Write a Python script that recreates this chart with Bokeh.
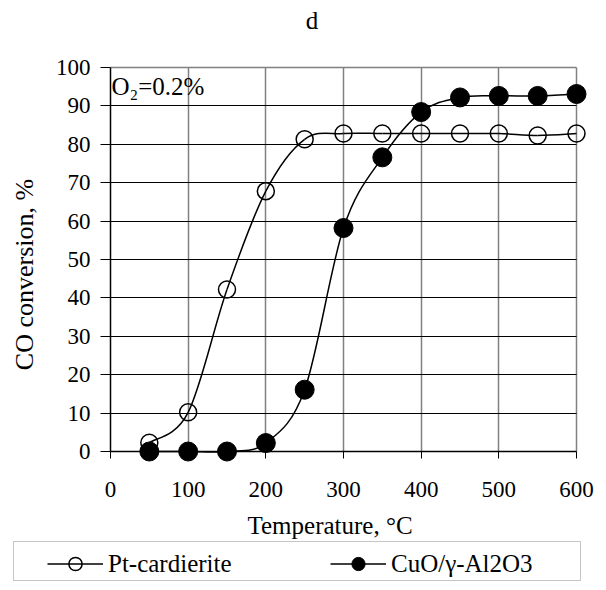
import math
from bokeh.plotting import figure
from bokeh.models import Range1d, FixedTicker, Legend, LegendItem, Label, Grid, BoxAnnotation
from bokeh.embed import file_html
from bokeh.resources import INLINE

# ---- data ----
temperature = [50, 100, 150, 200, 250, 300, 350, 400, 450, 500, 550, 600]
pt_cardierite = [2.3, 10.2, 42.2, 67.8, 81.3, 82.8, 82.8, 82.8, 82.8, 82.8, 82.3, 82.8]
cuo_al2o3 = [0.0, 0.0, 0.0, 2.2, 16.1, 58.2, 76.6, 88.4, 92.2, 92.6, 92.6, 93.1]
x_ticks = [0, 100, 200, 300, 400, 500, 600]
y_ticks = [0, 10, 20, 30, 40, 50, 60, 70, 80, 90, 100]

FONT = "Liberation Serif"
TICK_FS = "23px"
FS = "25px"

# ---- layout (pixels) ----
W, H = 606, 590
X0, X600 = 110, 576       # pixel columns of x = 0 and x = max
Y0, Y100 = 451, 67        # pixel rows of y = 0 and y = max
x_max, y_max = x_ticks[-1], y_ticks[-1]
sx = (X600 - X0) / x_max
sy = (Y0 - Y100) / y_max


def dx(px):
    return (px - X0) / sx


def dy(py):
    return (Y0 - py) / sy


p = figure(width=W, height=H, x_range=Range1d(dx(0), dx(W)), y_range=Range1d(dy(H), dy(0)),
           output_backend="svg", toolbar_location=None, title_location=None, min_border=0)
p.min_border_left = p.min_border_right = p.min_border_top = p.min_border_bottom = 0
p.outline_line_color = None
p.background_fill_color = "white"
p.border_fill_color = "white"
# a range far away from the view, used only by the legend's line keys
p.extra_y_ranges = {"key": Range1d(10 * y_max, 20 * y_max)}

# axes drawn at the zero lines
p.xaxis.fixed_location = 0
p.yaxis.fixed_location = 0
p.xaxis.bounds = (0, x_max)
p.yaxis.bounds = (0, y_max)
p.xaxis.ticker = FixedTicker(ticks=x_ticks)
p.yaxis.ticker = FixedTicker(ticks=y_ticks)
for ax in (p.xaxis, p.yaxis):
    ax.axis_line_color = "black"
    ax.axis_line_width = 1.5
    ax.major_tick_line_color = "black"
    ax.major_tick_line_width = 1
    ax.major_tick_in = 0
    ax.minor_tick_line_color = None
    ax.major_label_text_font = FONT
    ax.major_label_text_font_size = TICK_FS
    ax.major_label_text_color = "black"
p.yaxis.major_tick_out = 10
p.yaxis.major_label_standoff = 10
p.xaxis.major_tick_out = 7
p.xaxis.major_label_standoff = 23

# grids limited to the plot area
p.grid.visible = False
grid_specs = [
    (0, x_ticks[1:], "#808080", 1.5, (0, y_max)),      # vertical lines (gray)
    (1, y_ticks[1:-1], "black", 1, (0, x_max)),        # horizontal lines (black)
    (1, y_ticks[-1:], "#808080", 1.5, (0, x_max)),     # top edge (gray)
]
has_cross = "cross_bounds" in Grid.properties()
for dim, ticks, color, width, cross in grid_specs:
    if has_cross:
        p.add_layout(Grid(dimension=dim, ticker=FixedTicker(ticks=ticks), grid_line_color=color,
                          grid_line_width=width, cross_bounds=cross))
    else:
        n = len(ticks)
        if dim == 0:
            p.segment(x0=ticks, x1=ticks, y0=[cross[0]] * n, y1=[cross[1]] * n,
                      line_color=color, line_width=width, level="underlay")
        else:
            p.segment(x0=[cross[0]] * n, x1=[cross[1]] * n, y0=ticks, y1=ticks,
                      line_color=color, line_width=width, level="underlay")


def smooth(xs, ys):
    """Bezier control points (Excel-style smoothing) from the data points."""
    n = len(xs)
    seg = dict(x0=[], y0=[], x1=[], y1=[], cx0=[], cy0=[], cx1=[], cy1=[])
    for i in range(n - 1):
        a = max(i - 1, 0)
        d = min(i + 2, n - 1)
        seg["x0"].append(xs[i]); seg["y0"].append(ys[i])
        seg["x1"].append(xs[i + 1]); seg["y1"].append(ys[i + 1])
        seg["cx0"].append(xs[i] + (xs[i + 1] - xs[a]) / 6)
        seg["cy0"].append(ys[i] + (ys[i + 1] - ys[a]) / 6)
        seg["cx1"].append(xs[i + 1] - (xs[d] - xs[i]) / 6)
        seg["cy1"].append(ys[i + 1] - (ys[d] - ys[i]) / 6)
    return seg


p.bezier(source=smooth(temperature, pt_cardierite), x0="x0", y0="y0", x1="x1", y1="y1",
         cx0="cx0", cy0="cy0", cx1="cx1", cy1="cy1", line_color="black", line_width=1.5)
pt_pts = p.scatter(temperature, pt_cardierite, marker="circle", size=17, fill_color=None,
                   line_color="black", line_width=1.5)
p.bezier(source=smooth(temperature, cuo_al2o3), x0="x0", y0="y0", x1="x1", y1="y1",
         cx0="cx0", cy0="cy0", cx1="cx1", cy1="cy1", line_color="black", line_width=1.5)
cu_pts = p.scatter(temperature, cuo_al2o3, marker="circle", size=19, fill_color="black",
                   line_color="black", line_width=1)
# line keys for the legend (mapped onto the far-away range, so nothing shows in the plot)
pt_key = p.line(temperature, pt_cardierite, line_color="black", line_width=1.5, y_range_name="key")
cu_key = p.line(temperature, cuo_al2o3, line_color="black", line_width=1.5, y_range_name="key")

# texts
common = dict(text_font=FONT, text_font_size=FS, text_color="black", text_baseline="middle")
p.add_layout(Label(x=dx(311.5), y=dy(20), text="d", text_align="center", **common))
p.add_layout(Label(x=dx(111), y=dy(86), text="O₂=0.2%", text_align="left", **common))
p.add_layout(Label(x=dx(247), y=dy(525), text="Temperature, °C", text_align="left", **common))
p.add_layout(Label(x=dx(24), y=dy(274), text="CO conversion, %", angle=math.pi / 2,
                   text_align="center", text_font=FONT, text_font_size="26px",
                   text_color="black", text_baseline="middle"))

# legend below the plot
p.add_layout(BoxAnnotation(left=dx(13), right=dx(580), top=dy(541), bottom=dy(580),
                           fill_color=None, line_color="#404040", line_width=1))
legend = Legend(items=[LegendItem(label="Pt-cardierite", renderers=[pt_pts, pt_key]),
                       LegendItem(label="CuO/γ-Al2O3", renderers=[cu_pts, cu_key])],
                orientation="horizontal", location=(47, H - 580),
                border_line_color=None, background_fill_alpha=0,
                padding=3, margin=0, glyph_width=56, glyph_height=33,
                label_standoff=5, label_width=130, spacing=92,
                label_text_font=FONT, label_text_font_size=FS, label_text_color="black")
p.add_layout(legend)

open("out.html", "w").write(file_html(p, INLINE))
